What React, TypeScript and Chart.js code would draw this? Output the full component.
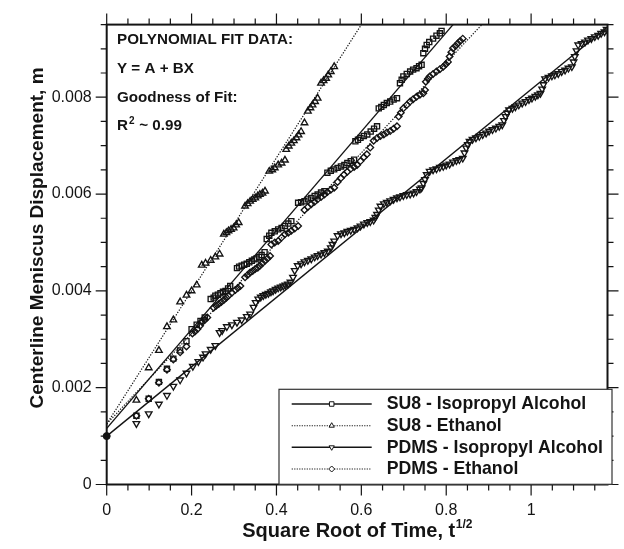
import React, { useEffect, useRef } from 'react';
import { Chart, registerables } from 'chart.js';

Chart.register(...registerables);

// ---------- axes ----------
const X_MIN = 0;
const X_MAX = 1.18;
const Y_MIN = 0;
const Y_MAX = 0.0095;
const X_STEP = 0.05;
const Y_STEP = 0.0005;
const xTickValues = [0, 0.2, 0.4, 0.6, 0.8, 1];
const xTickLabels = ['0', '0.2', '0.4', '0.6', '0.8', '1'];
const yTickValues = [0, 0.002, 0.004, 0.006, 0.008];
const yTickLabels = ['0', '0.002', '0.004', '0.006', '0.008'];

const seriesLabels = ['SU8 - Isopropyl Alcohol', 'SU8 - Ethanol', 'PDMS - Isopropyl Alcohol', 'PDMS - Ethanol'];
const fitNotes = ['POLYNOMIAL FIT DATA:', 'Y = A + BX', 'Goodness of Fit:'];

// ---------- data: [sqrt(t), displacement m] ----------
const startPoint: [number, number][] = [[0, 0.001]];

const su8Ipa: [number, number][] = [
  [0.07, 0.00142], [0.099, 0.00177], [0.123, 0.00212], [0.142, 0.00239], [0.157, 0.0026], [0.173, 0.00277],
  [0.188, 0.00296], [0.2, 0.00321], [0.212, 0.0033], [0.221, 0.00338], [0.231, 0.00345], [0.245, 0.00383],
  [0.252, 0.00386], [0.256, 0.0039], [0.262, 0.00392], [0.268, 0.00395], [0.274, 0.00398], [0.28, 0.004],
  [0.286, 0.00405], [0.291, 0.0041], [0.307, 0.00447], [0.312, 0.0045], [0.318, 0.00452], [0.324, 0.00454],
  [0.33, 0.00456], [0.336, 0.00459], [0.342, 0.00462], [0.348, 0.00465], [0.353, 0.00467], [0.359, 0.0047],
  [0.365, 0.00474], [0.372, 0.0048], [0.377, 0.00507], [0.383, 0.00514], [0.388, 0.0052], [0.396, 0.00523],
  [0.404, 0.00527], [0.412, 0.0053], [0.42, 0.00534], [0.428, 0.00539], [0.435, 0.00544], [0.451, 0.00582],
  [0.458, 0.00583], [0.466, 0.00585], [0.474, 0.00589], [0.482, 0.00592], [0.49, 0.00596], [0.497, 0.00599],
  [0.505, 0.00603], [0.513, 0.00606], [0.52, 0.00644], [0.528, 0.00648], [0.536, 0.00651], [0.544, 0.00654],
  [0.552, 0.00657], [0.56, 0.0066], [0.567, 0.00664], [0.575, 0.00668], [0.583, 0.00671], [0.586, 0.00709],
  [0.592, 0.00712], [0.598, 0.00716], [0.606, 0.0072], [0.614, 0.00723], [0.622, 0.00729], [0.63, 0.00735],
  [0.637, 0.0074], [0.641, 0.00777], [0.647, 0.0078], [0.653, 0.00784], [0.66, 0.00788], [0.668, 0.00791],
  [0.676, 0.00795], [0.684, 0.00798], [0.691, 0.00829], [0.695, 0.00836], [0.699, 0.00843], [0.707, 0.00848],
  [0.715, 0.00853], [0.722, 0.00857], [0.73, 0.0086], [0.736, 0.00864], [0.742, 0.00867], [0.746, 0.00891],
  [0.75, 0.009], [0.754, 0.00908], [0.76, 0.00914], [0.769, 0.00921], [0.777, 0.00927], [0.785, 0.00932],
  [0.789, 0.00937],
];

const su8Eth: [number, number][] = [
  [0.07, 0.00174], [0.099, 0.00241], [0.123, 0.00277], [0.142, 0.00326], [0.157, 0.0034], [0.173, 0.00377],
  [0.188, 0.00391], [0.2, 0.004], [0.212, 0.00412], [0.224, 0.00453], [0.233, 0.00457], [0.245, 0.00463],
  [0.256, 0.0047], [0.266, 0.00476], [0.276, 0.00517], [0.282, 0.0052], [0.287, 0.00524], [0.293, 0.00527],
  [0.299, 0.0053], [0.305, 0.00536], [0.311, 0.00541], [0.326, 0.00575], [0.332, 0.0058], [0.338, 0.00585],
  [0.344, 0.00589], [0.35, 0.00592], [0.356, 0.00596], [0.361, 0.00599], [0.367, 0.00602], [0.373, 0.00606],
  [0.383, 0.00647], [0.39, 0.0065], [0.396, 0.00654], [0.404, 0.0066], [0.412, 0.00664], [0.42, 0.0067],
  [0.423, 0.00692], [0.429, 0.00699], [0.435, 0.00705], [0.441, 0.0071], [0.447, 0.00716], [0.452, 0.00722],
  [0.458, 0.00729], [0.466, 0.00747], [0.474, 0.00771], [0.48, 0.00778], [0.485, 0.00784], [0.491, 0.00791],
  [0.497, 0.00798], [0.505, 0.00829], [0.511, 0.00834], [0.517, 0.00839], [0.522, 0.00846], [0.528, 0.00853],
  [0.536, 0.00863],
];

const pdmsIpa: [number, number][] = [
  [0.07, 0.00126], [0.099, 0.00146], [0.123, 0.00166], [0.142, 0.00184], [0.157, 0.00203], [0.173, 0.00216],
  [0.188, 0.0023], [0.203, 0.00244], [0.216, 0.00254], [0.227, 0.00263], [0.233, 0.0027], [0.245, 0.00279],
  [0.256, 0.00287], [0.266, 0.00314], [0.272, 0.00318], [0.283, 0.00326], [0.295, 0.0033], [0.307, 0.00335],
  [0.318, 0.0034], [0.33, 0.00347], [0.338, 0.00352], [0.346, 0.00366], [0.351, 0.00376], [0.357, 0.00383],
  [0.363, 0.00387], [0.369, 0.0039], [0.375, 0.00393], [0.381, 0.00395], [0.387, 0.00398], [0.392, 0.004],
  [0.398, 0.00403], [0.404, 0.00406], [0.41, 0.00408], [0.416, 0.0041], [0.421, 0.00412], [0.427, 0.00414],
  [0.433, 0.00418], [0.439, 0.00428], [0.443, 0.00442], [0.45, 0.00452], [0.458, 0.00456], [0.466, 0.0046],
  [0.474, 0.00463], [0.482, 0.00466], [0.49, 0.0047], [0.497, 0.00473], [0.505, 0.00476], [0.513, 0.00479],
  [0.521, 0.00482], [0.528, 0.00489], [0.532, 0.00496], [0.536, 0.00503], [0.544, 0.00514], [0.552, 0.00518],
  [0.56, 0.0052], [0.567, 0.00523], [0.575, 0.00525], [0.583, 0.00527], [0.591, 0.0053], [0.598, 0.00534],
  [0.606, 0.00538], [0.614, 0.00541], [0.621, 0.00543], [0.629, 0.00546], [0.633, 0.00552], [0.637, 0.00558],
  [0.641, 0.00567], [0.645, 0.00575], [0.653, 0.0058], [0.66, 0.00583], [0.668, 0.00586], [0.676, 0.00589],
  [0.684, 0.00592], [0.691, 0.00594], [0.699, 0.00597], [0.707, 0.00599], [0.715, 0.006], [0.723, 0.00602],
  [0.73, 0.00605], [0.738, 0.0061], [0.742, 0.00613], [0.746, 0.00622], [0.75, 0.0063], [0.754, 0.0064],
  [0.761, 0.00647], [0.769, 0.0065], [0.777, 0.00652], [0.785, 0.00655], [0.793, 0.00657], [0.8, 0.0066],
  [0.808, 0.00662], [0.816, 0.00666], [0.824, 0.00669], [0.831, 0.00671], [0.839, 0.00674], [0.843, 0.00685],
  [0.847, 0.00695], [0.851, 0.00702], [0.855, 0.00709], [0.862, 0.00713], [0.87, 0.00716], [0.878, 0.00719],
  [0.886, 0.00723], [0.894, 0.00726], [0.901, 0.0073], [0.909, 0.00733], [0.917, 0.00736], [0.925, 0.0074],
  [0.932, 0.00743], [0.936, 0.00752], [0.94, 0.0076], [0.944, 0.00767], [0.948, 0.00774], [0.956, 0.00777],
  [0.963, 0.0078], [0.971, 0.00784], [0.979, 0.00788], [0.987, 0.00791], [0.995, 0.00795], [1.002, 0.00798],
  [1.01, 0.00802], [1.016, 0.00805], [1.022, 0.00808], [1.026, 0.00817], [1.029, 0.00826], [1.033, 0.00838],
  [1.041, 0.00841], [1.049, 0.00844], [1.056, 0.00846], [1.064, 0.00849], [1.072, 0.00853], [1.08, 0.00856],
  [1.088, 0.0086], [1.096, 0.00863], [1.1, 0.00873], [1.103, 0.00884], [1.107, 0.00896], [1.111, 0.00908],
  [1.119, 0.00911], [1.127, 0.00914], [1.134, 0.00918], [1.142, 0.00921], [1.15, 0.00925], [1.158, 0.00928],
  [1.165, 0.00932], [1.173, 0.00935], [1.178, 0.0094],
];

const pdmsEth: [number, number][] = [
  [0.07, 0.00142], [0.099, 0.00177], [0.123, 0.0021], [0.142, 0.00237], [0.157, 0.00258], [0.173, 0.00273],
  [0.188, 0.00285], [0.202, 0.00312], [0.208, 0.00316], [0.214, 0.00321], [0.22, 0.00328], [0.225, 0.00335],
  [0.231, 0.0034], [0.237, 0.00345], [0.252, 0.00365], [0.258, 0.00369], [0.264, 0.00373], [0.27, 0.00377],
  [0.276, 0.00381], [0.282, 0.00386], [0.287, 0.0039], [0.295, 0.00396], [0.303, 0.00402], [0.309, 0.00406],
  [0.315, 0.0041], [0.326, 0.00428], [0.332, 0.00433], [0.338, 0.00438], [0.344, 0.00441], [0.35, 0.00445],
  [0.356, 0.00448], [0.361, 0.00452], [0.367, 0.00457], [0.373, 0.00462], [0.379, 0.00467], [0.385, 0.00472],
  [0.388, 0.00496], [0.396, 0.005], [0.404, 0.00503], [0.412, 0.0051], [0.42, 0.00517], [0.428, 0.0052],
  [0.435, 0.00524], [0.443, 0.00529], [0.451, 0.00534], [0.466, 0.00567], [0.474, 0.00573], [0.482, 0.00579],
  [0.49, 0.00584], [0.497, 0.00589], [0.505, 0.00594], [0.513, 0.00599], [0.52, 0.00604], [0.528, 0.00609],
  [0.536, 0.00613], [0.544, 0.00625], [0.552, 0.00633], [0.559, 0.0064], [0.567, 0.00646], [0.575, 0.00652],
  [0.583, 0.00656], [0.59, 0.0066], [0.598, 0.00668], [0.606, 0.00676], [0.613, 0.00682], [0.621, 0.00696],
  [0.629, 0.0071], [0.637, 0.00716], [0.645, 0.0072], [0.653, 0.00723], [0.66, 0.00727], [0.668, 0.0073],
  [0.676, 0.00735], [0.684, 0.0074], [0.688, 0.0076], [0.693, 0.00768], [0.699, 0.00777], [0.707, 0.00784],
  [0.715, 0.00791], [0.722, 0.00796], [0.73, 0.00801], [0.738, 0.00805], [0.746, 0.00808], [0.75, 0.00815],
  [0.752, 0.00832], [0.757, 0.00838], [0.761, 0.00843], [0.769, 0.00848], [0.777, 0.00853], [0.785, 0.00858],
  [0.793, 0.00863], [0.799, 0.00868], [0.804, 0.00873], [0.808, 0.00884], [0.812, 0.00893], [0.816, 0.00901],
  [0.822, 0.00906], [0.827, 0.00911], [0.833, 0.00916], [0.839, 0.00921],
];

// fitted straight lines (end points)
const su8IpaFit: [number, number][] = [[0, 0.00116], [0.816, 0.0095]];
const su8EthFit: [number, number][] = [[0, 0.00125], [0.6, 0.0095]];
const pdmsIpaFit: [number, number][] = [[0, 0.001], [1.18, 0.00945]];
const pdmsEthFit: [number, number][] = [[0, 0.00125], [0.884, 0.0095]];

// ---------- helpers ----------
const FONT = '"Liberation Sans", Arial, Helvetica, sans-serif';
const INK = '#141414';
const pts = (arr: [number, number][]) => arr.map(([x, y]) => ({ x, y }));
const findIdx = (v: number, arr: number[], tol: number) => arr.findIndex((m) => Math.abs(m - v) < tol);
const onStep = (v: number, step: number) => Math.abs(v / step - Math.round(v / step)) < 1e-6;

type Marker = 'square' | 'up' | 'down' | 'diamond';
const markerOf: Marker[] = ['square', 'up', 'down', 'diamond'];
const dashedOf = [false, true, false, true];

function drawMarker(ctx: CanvasRenderingContext2D, m: Marker, x: number, y: number, r: number) {
  ctx.beginPath();
  if (m === 'square') {
    ctx.rect(x - r * 0.75, y - r * 0.75, r * 1.5, r * 1.5);
  } else if (m === 'up') {
    ctx.moveTo(x, y - r);
    ctx.lineTo(x + r * 0.87, y + r * 0.5);
    ctx.lineTo(x - r * 0.87, y + r * 0.5);
    ctx.closePath();
  } else if (m === 'down') {
    ctx.moveTo(x, y + r);
    ctx.lineTo(x + r * 0.87, y - r * 0.5);
    ctx.lineTo(x - r * 0.87, y - r * 0.5);
    ctx.closePath();
  } else {
    ctx.moveTo(x, y - r);
    ctx.lineTo(x + r, y);
    ctx.lineTo(x, y + r);
    ctx.lineTo(x - r, y);
    ctx.closePath();
  }
  ctx.fillStyle = '#fff';
  ctx.fill();
  ctx.stroke();
}

const overlay = {
  id: 'overlay',
  afterDraw(chart: any) {
    const ctx: CanvasRenderingContext2D = chart.ctx;
    const a = chart.chartArea;
    const xs = chart.scales.x;
    const ys = chart.scales.y;
    ctx.save();

    // tick marks (outward, all four sides)
    ctx.strokeStyle = INK;
    ctx.lineWidth = 1.2;
    ctx.beginPath();
    xs.ticks.forEach((t: any) => {
      if (!onStep(t.value, X_STEP)) return;
      const px = xs.getPixelForValue(t.value);
      const L = findIdx(t.value, xTickValues, 1e-6) >= 0 ? 11 : 6;
      ctx.moveTo(px, a.bottom);
      ctx.lineTo(px, a.bottom + L);
      ctx.moveTo(px, a.top);
      ctx.lineTo(px, a.top - L);
    });
    ys.ticks.forEach((t: any) => {
      if (!onStep(t.value, Y_STEP)) return;
      const py = ys.getPixelForValue(t.value);
      const L = findIdx(t.value, yTickValues, 1e-9) >= 0 ? 11 : 6;
      ctx.moveTo(a.left, py);
      ctx.lineTo(a.left - L, py);
      ctx.moveTo(a.right, py);
      ctx.lineTo(a.right + L, py);
    });
    ctx.stroke();

    // frame
    ctx.lineWidth = 2;
    ctx.strokeRect(a.left, a.top, a.right - a.left, a.bottom - a.top);

    // fit note text box
    ctx.fillStyle = INK;
    ctx.textAlign = 'left';
    ctx.textBaseline = 'alphabetic';
    const noteFont = `bold 15.2px ${FONT}`;
    ctx.font = noteFont;
    const tx = 117;
    const baselines = [43.5, 73.3, 101.8, 130.2];
    fitNotes.forEach((s, i) => ctx.fillText(s, tx, baselines[i]));
    ctx.fillText('R', tx, baselines[3]);
    const rw = ctx.measureText('R').width;
    ctx.font = `bold 10px ${FONT}`;
    ctx.fillText('2', tx + rw + 1, baselines[3] - 6);
    const sw = ctx.measureText('2').width;
    ctx.font = noteFont;
    ctx.fillText(' ~ 0.99', tx + rw + sw + 1.5, baselines[3]);

    // legend box
    const lx = 279, ly = 389.3, lw = 333, lh = 95;
    ctx.fillStyle = '#fff';
    ctx.fillRect(lx, ly, lw, lh);
    ctx.strokeStyle = '#333';
    ctx.lineWidth = 1.2;
    ctx.strokeRect(lx, ly, lw, lh);
    const rows = [404, 425.7, 447.3, 469];
    seriesLabels.forEach((lab, i) => {
      const y = rows[i];
      ctx.strokeStyle = INK;
      ctx.lineWidth = dashedOf[i] ? 1.1 : 1.5;
      ctx.setLineDash(dashedOf[i] ? [1.2, 1.3] : []);
      ctx.beginPath();
      ctx.moveTo(291.7, y);
      ctx.lineTo(371.7, y);
      ctx.stroke();
      ctx.setLineDash([]);
      ctx.lineWidth = 1;
      drawMarker(ctx, markerOf[i], 331.7, y, 3);
      ctx.fillStyle = INK;
      ctx.font = `bold 17.7px ${FONT}`;
      ctx.textBaseline = 'middle';
      ctx.fillText(lab, 386.7, y + 0.5);
    });

    // axis titles
    ctx.textBaseline = 'alphabetic';
    ctx.fillStyle = INK;
    const main = 'Square Root of Time, t';
    const sup = '1/2';
    const titleFont = `bold 20px ${FONT}`;
    const supFont = `bold 12px ${FONT}`;
    ctx.font = titleFont;
    const w1 = ctx.measureText(main).width;
    ctx.font = supFont;
    const w2 = ctx.measureText(sup).width;
    const cx = (a.left + a.right) / 2;
    const start = cx - (w1 + w2) / 2;
    ctx.font = titleFont;
    ctx.textAlign = 'left';
    ctx.fillText(main, start, 537);
    ctx.font = supFont;
    ctx.fillText(sup, start + w1 + 0.5, 527.5);

    ctx.save();
    ctx.translate(43, 238);
    ctx.rotate(-Math.PI / 2);
    ctx.font = `bold 19px ${FONT}`;
    ctx.textAlign = 'center';
    ctx.fillText('Centerline Meniscus Displacement, m', 0, 0);
    ctx.restore();

    ctx.restore();
  },
};

function pointSet(arr: [number, number][], style: string, rotation: number, radius: number) {
  return {
    data: pts(arr),
    showLine: false,
    pointStyle: style,
    rotation,
    pointRadius: radius,
    pointBorderColor: INK,
    pointBackgroundColor: 'rgba(255,255,255,0)',
    pointBorderWidth: 1.35,
    borderColor: INK,
    backgroundColor: 'rgba(255,255,255,0)',
  };
}

function fitSet(arr: [number, number][], dashed: boolean) {
  return {
    data: pts(arr),
    showLine: true,
    pointRadius: 0,
    borderColor: INK,
    borderWidth: dashed ? 1.2 : 1.4,
    borderDash: dashed ? [1.3, 1.5] : [],
    fill: false,
  };
}

export default function App() {
  const ref = useRef<HTMLCanvasElement>(null);
  useEffect(() => {
    if (!ref.current) return;
    const chart = new Chart(ref.current, {
      type: 'scatter',
      data: {
        datasets: [
          fitSet(su8IpaFit, false),
          fitSet(su8EthFit, true),
          fitSet(pdmsIpaFit, false),
          fitSet(pdmsEthFit, true),
          pointSet(su8Ipa, 'rect', 0, 3.6),
          pointSet(su8Eth, 'triangle', 0, 3.8),
          pointSet(pdmsIpa, 'triangle', 180, 3.8),
          pointSet(pdmsEth, 'rectRot', 0, 3.3),
          {
            data: pts(startPoint),
            showLine: false,
            pointStyle: 'circle',
            pointRadius: 3.5,
            pointBackgroundColor: INK,
            pointBorderColor: INK,
            clip: false,
          } as any,
        ] as any,
      },
      options: {
        responsive: false,
        animation: false,
        events: [],
        layout: { padding: { left: 0, top: 22.7, right: 10, bottom: 0 } },
        plugins: { legend: { display: false }, tooltip: { enabled: false } },
        scales: {
          x: {
            type: 'linear',
            min: X_MIN,
            max: X_MAX,
            bounds: 'data',
            grid: { display: false, drawTicks: false },
            border: { display: false },
            afterFit: (s: any) => {
              s.height = 549 - 484.5;
            },
            ticks: {
              stepSize: X_STEP,
              autoSkip: false,
              maxRotation: 0,
              padding: 16.5,
              color: INK,
              font: { family: FONT, size: 16 },
              callback: (v: any) => {
                const i = findIdx(Number(v), xTickValues, 1e-6);
                return i >= 0 ? xTickLabels[i] : '';
              },
            },
          },
          y: {
            type: 'linear',
            min: Y_MIN,
            max: Y_MAX,
            bounds: 'data',
            grid: { display: false, drawTicks: false },
            border: { display: false },
            afterFit: (s: any) => {
              s.width = 106.7;
            },
            ticks: {
              stepSize: Y_STEP,
              autoSkip: false,
              padding: 15,
              color: INK,
              font: { family: FONT, size: 16 },
              callback: (v: any) => {
                const i = findIdx(Number(v), yTickValues, 1e-9);
                return i >= 0 ? yTickLabels[i] : '';
              },
            },
          },
        },
      } as any,
      plugins: [overlay],
    });
    return () => chart.destroy();
  }, []);
  return (
    <div style={{ position: 'fixed', left: 0, top: 0, width: 624, height: 549, background: '#fff' }}>
      <canvas ref={ref} width={624} height={549} style={{ display: 'block', width: 624, height: 549 }} />
    </div>
  );
}
